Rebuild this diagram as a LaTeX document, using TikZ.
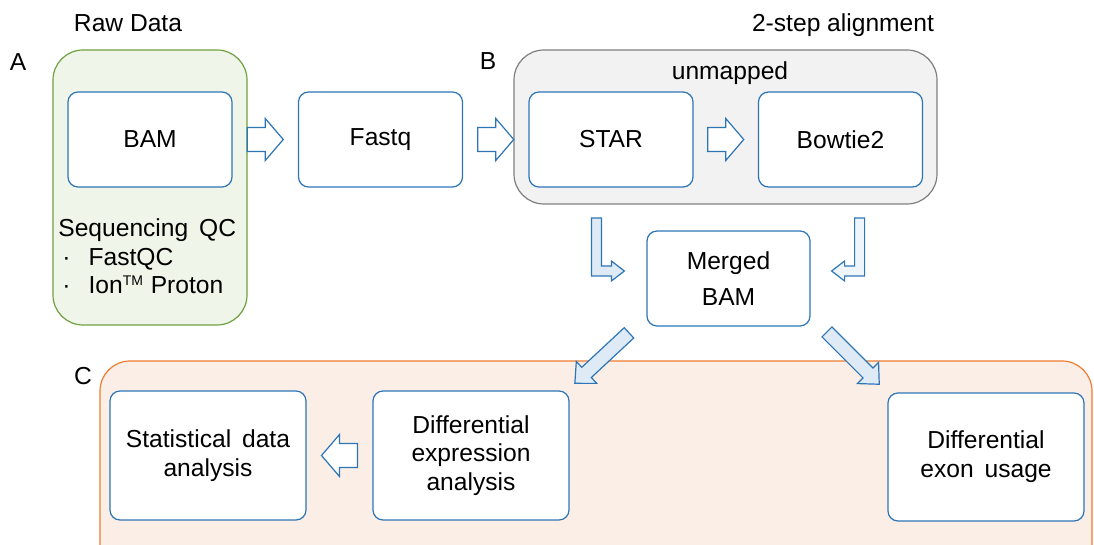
\documentclass[tikz,border=0pt]{standalone}
\usepackage{fontspec}
\setmainfont{Liberation Sans}
\usetikzlibrary{calc}
\definecolor{FlowBoxBlue}{RGB}{46,117,182}
\definecolor{FlowArrowFill}{RGB}{222,235,247}
\definecolor{FlowGlow}{RGB}{200,220,242}
\definecolor{FlowGroupAFill}{RGB}{239,245,232}
\definecolor{FlowGroupADraw}{RGB}{112,160,64}
\definecolor{FlowGroupBFill}{RGB}{242,242,242}
\definecolor{FlowGroupBDraw}{RGB}{127,127,127}
\definecolor{FlowGroupCFill}{RGB}{251,238,230}
\definecolor{FlowGroupCDraw}{RGB}{237,125,49}
\pgfdeclareradialshading{flowglow}{\pgfpoint{0bp}{0bp}}{color(0bp)=(white); color(40bp)=(white); color(62bp)=(FlowGlow); color(72bp)=(FlowGlow)}
\newcommand\flowfont{\fontsize{12.3}{14.4}\selectfont}

\begin{document}
\begin{tikzpicture}[x=0.5pt,y=-0.5pt,font=\flowfont,
stepbox/.style={draw=FlowBoxBlue,line width=0.6pt,rounded corners=5pt,shading=flowglow,align=center,minimum width=#1},
stepbox/.default=82pt,
grp/.style n args={2}{draw=#1,fill=#2,line width=0.6pt,rounded corners=15pt},
lbl/.style={inner sep=0pt,anchor=base},
arrowline/.style={draw=FlowBoxBlue,line width=0.6pt,fill=#1,line join=miter},
arrowline/.default=white,
fatarrow/.pic={\path[arrowline] (-18,-12) -- (0,-12) -- (0,-21) -- (18,0) -- (0,21) -- (0,12) -- (-18,12) -- cycle;},
slimarrow/.pic={\path[arrowline=FlowArrowFill] (-37,-7) -- (21,-7) -- (21,-15) -- (37,0) -- (21,15) -- (21,7) -- (-37,7) -- cycle;},
bentarrow/.pic={\path[arrowline=#1] (-33,-53) -- (-23,-53) -- (-23,-5) -- (-13,-5) -- (-13,-10) -- (0,0) -- (-13,10) -- (-13,5) -- (-33,5) -- cycle;}]
\useasboundingbox (0,0) rectangle (1094,545);
\draw[grp={FlowGroupADraw}{FlowGroupAFill}] (53,50) rectangle (247,325);
\draw[grp={FlowGroupBDraw}{FlowGroupBFill}] (514,50) rectangle (937,204);
\draw[grp={FlowGroupCDraw}{FlowGroupCFill}] (100,361) rectangle (1092,575);
\node[lbl] (rawlbl) at (128,32) {Raw Data};
\node[lbl] (alignlbl) at (843,32) {2-step alignment};
\node[lbl] (unmappedlbl) at (730,80) {unmapped};
\foreach \t/\x/\y in {A/18/71,B/488/70,C/83/385} {
   \node[lbl] (lbl\t) at (\x,\y) {\t};
}
\node[stepbox,minimum height=47.5pt] (bam) at (150,139.5) {BAM};
\node[stepbox,minimum height=47.5pt] (fastq) at (380.5,139.5) {Fastq};
\node[stepbox,minimum height=47.5pt] (star) at (611,139.5) {STAR};
\node[stepbox,minimum height=47.5pt] (bowtie) at (840.5,139.5) {Bowtie2};
\node[stepbox=81.5pt,minimum height=47.5pt] (merged) at (728.5,278.5) {Merged\\[4pt]BAM};
\node[stepbox=98pt,minimum height=64.5pt] (stats) at (208,455.5) {Statistical\, data\\analysis};
\node[stepbox=98pt,minimum height=64.5pt] (diffexpr) at (471,455.5) {Differential\\expression\\analysis};
\node[stepbox=98pt,minimum height=64pt] (diffexon) at (986,457) {Differential\\exon\, usage};
\node[inner sep=0pt,anchor=north west,align=left] (qc) at (58,218) {Sequencing\, QC\\
   \hspace{2pt}\textperiodcentered\hspace{9pt}FastQC\\
   \hspace{2pt}\textperiodcentered\hspace{9pt}Ion\textsuperscript{\scriptsize TM} Proton};
\pic at ($(bam.east)!0.5!(fastq.west)$) {fatarrow};
\pic at ($(fastq.east)!0.5!(star.west)$) {fatarrow};
\pic at ($(star.east)!0.5!(bowtie.west)$) {fatarrow};
\pic[rotate=180] at ($(stats.east)!0.5!(diffexpr.west)$) {fatarrow};
\pic at ($(merged.west)+(-22,-7.5)$) {bentarrow=FlowArrowFill};
\pic[xscale=-1] at ($(merged.east)+(21,-7.5)$) {bentarrow=FlowArrowFill!50};
\pic[rotate=223] at ($(merged.south west)+(-44.5,31.5)$) {slimarrow};
\pic[rotate=-45] at ($(merged.south east)+(42.5,31.5)$) {slimarrow};
\end{tikzpicture}
\end{document}
